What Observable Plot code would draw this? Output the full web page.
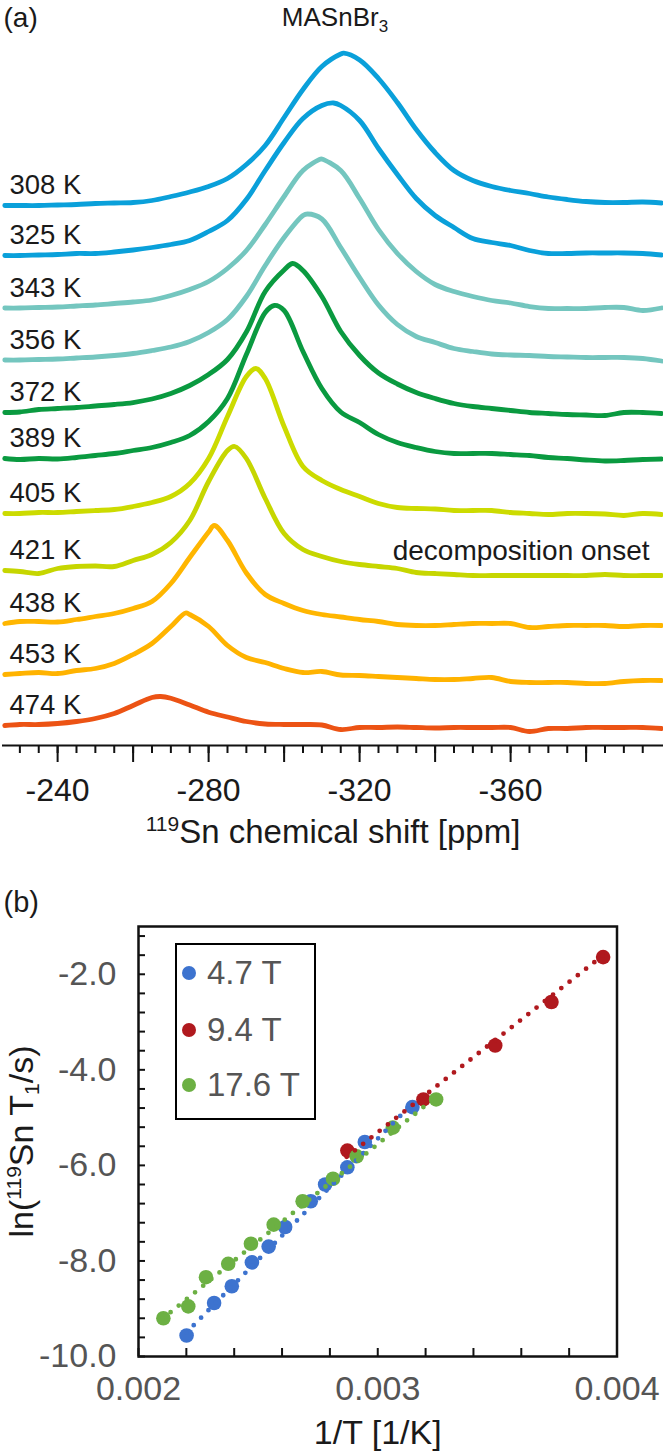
<!DOCTYPE html>
<html>
<head>
<meta charset="utf-8">
<script src="https://cdn.jsdelivr.net/npm/d3@7"></script>
<script src="https://cdn.jsdelivr.net/npm/@observablehq/plot@0.6"></script>
<style>
  html, body { margin: 0; padding: 0; background: #fff; overflow: hidden; }
  #wrap { position: relative; width: 663px; height: 1453px; font-family: "Liberation Sans", Arial, Helvetica, sans-serif; }
  #wrap svg { display: block; overflow: visible; }
  #legend { position: absolute; left: 175px; top: 943px; width: 141px; height: 177px; box-sizing: border-box;
            border: 2.5px solid #000; background: #fff; }
  .item { position: absolute; left: 0; height: 40px; display: flex; align-items: center; }
  .dot { position: absolute; left: 5px; width: 14px; height: 14px; border-radius: 50%; }
  .lab { position: absolute; left: 30px; font-size: 33px; color: #555; white-space: nowrap; line-height: 40px; }
</style>
</head>
<body>
<div id="wrap"></div>
<script>
// ---------- Panel (a): 119Sn spectra ----------
const temps = ["308 K", "325 K", "343 K", "356 K", "372 K", "389 K", "405 K", "421 K", "438 K", "453 K", "474 K"];
const colorsA = ["#0aa0da", "#0aa0da", "#74c6bf", "#74c6bf", "#0a9a40", "#0a9a40", "#ccdb00", "#c6d600", "#ffb600", "#ffb300", "#ec5314"];
// vertical stacking offsets (a.u.)
const offsets = [540, 490, 437.5, 385.5, 333, 287, 232, 175, 122, 71, 20];
// chemical shift grid (ppm)
const shift = [-226, -230, -235, -240, -245, -250, -255, -260, -265, -270, -275, -280, -285, -290, -295, -300, -305, -310,
               -315, -320, -325, -330, -335, -340, -345, -350, -355, -360, -365, -370, -375, -380, -385, -390, -395, -400];
const int308 = [0, 0, 0, 0.5, 1, 2, 2.5, 3, 5, 9, 13.5, 19, 27, 41, 60, 88, 116, 139, 151.5, 145.5, 127, 103, 76, 53, 35, 25, 19, 15, 12, 8.5, 6, 4, 3, 3, 3.5, 2.5];
const int325 = [0, 0, 0.5, 1, 2, 2, 3.5, 5.5, 8, 11, 15, 24, 35, 56, 85, 113, 137, 150, 150, 135, 107, 81, 57, 40, 28, 17, 13, 10, 5, 2, 2, 2.5, 2.5, 2.5, 2, 0.5];
const int343 = [0, 0, 0.5, 1, 2, 3, 4.5, 6, 8, 12.5, 18.5, 26.5, 39.5, 57.5, 83.5, 111.5, 137.5, 149, 137.5, 109.5, 78.5, 54.5, 36.5, 23.5, 16.5, 11.5, 7.5, 5, 1.5, -0.5, -0.5, -0.5, 0.5, 0.5, -2.5, 0];
const int356 = [0, 0, 0.5, 1, 2, 3, 4.5, 6.5, 9.5, 13, 18.5, 27.5, 40.5, 63.5, 94.5, 122.5, 144.5, 141, 112.5, 82.5, 55, 35.5, 23.5, 17.5, 11.5, 8.5, 6, 5, 4.5, 3.5, 3, 2.5, 2.5, 2.5, 1.5, -1];
const int372 = [0, 0.5, 3, 4, 5, 6.5, 8, 10, 13.5, 19, 27, 38, 53, 80.5, 121, 142.5, 142, 116, 81, 57, 39.5, 28.5, 20, 14, 9, 6, 4, 2, 0, -1, -2, -2.5, -3, 0, 0, -1];
const int389 = [0, -1, 0, -0.5, 1, 3, 5, 8, 11, 16, 23, 37, 60, 104, 146, 148, 107, 70, 46.5, 36, 24, 16, 11, 7, 5, 5, 5, 4, 3, 1, 0, -1.5, -2.5, -2, -1, -0.5];
const int405 = [0, 0, 1, 1, 2, 3, 4, 7, 11, 17, 30, 55, 97, 137, 135, 87, 47, 33, 24, 17, 10, 6, 5, 4.5, 3, 3, 3, 1, 0, -1, 0, 0, -0.5, -2, 0, -1];
const int421 = [0, -1, -3, 2, 4, 4.5, 4, 10, 16, 28, 50, 89, 120, 112, 72, 37, 21, 14, 9, 6, 4, 2, -2, -3, -4, -5, -5, -5, -5, -5, -5, -5, -4, -5, -5, -5];
const int438 = [0, 2, 2, 1.5, 4, 7, 10, 15, 22, 40, 66, 91.5, 83, 50.5, 29, 20, 13, 9, 6.5, 4, 2, -1, -2, -2, -1, 0, 0, 0, -4, -3, -2, -2, -2, -3, -2, -2];
const int453 = [0, 1, 2, 1, 4, 6, 11, 20, 31, 48, 60, 48, 29, 17, 12, 6, 2, 3, -0.5, -1, -2, -3, -4, -5, -5, -4, -3, -7, -8, -8, -8, -9, -9, -7, -6, -6];
const int474 = [0, 1, 1, 2, 4, 7, 12, 20, 28, 27.3, 20.5, 13.3, 8.5, 4, 1.5, 1, 1, 0.5, -4, -2, -2, -1.5, -2, -2.5, -2, -2, -2, -2, -6, -3, -3, -2, -2, -2, -2, -3];
// peak maxima
const peakShift = [-315.8, -313.1, -309.7, -306.2, -302.3, -297.4, -292.5, -286.9, -281.5, -273.9, -267.3];
const peakInt = [152.3, 152.5, 149, 146, 149, 153, 145, 124, 98, 61.5, 29];
const xTicksA = [-240, -280, -320, -360];

// ---------- Panel (b): ln T1 vs 1/T ----------
const fields = ["4.7 T", "9.4 T", "17.6 T"];
const colorsB = ["#3d73cf", "#b0191e", "#6cb043"];
const blueX = [0.002201, 0.002316, 0.002390, 0.002474, 0.002544, 0.002613, 0.002720, 0.002780, 0.002873, 0.002946, 0.003145];
const blueY = [-9.56, -8.88, -8.53, -8.03, -7.70, -7.29, -6.75, -6.40, -6.04, -5.51, -4.78];
const redX = [0.002873, 0.003191, 0.003491, 0.003726, 0.003942];
const redY = [-5.69, -4.62, -3.49, -2.58, -1.64];
const greenX = [0.002104, 0.002208, 0.002282, 0.002375, 0.002470, 0.002565, 0.002686, 0.002813, 0.002912, 0.003063, 0.003244];
const greenY = [-9.20, -8.95, -8.34, -8.06, -7.64, -7.24, -6.75, -6.28, -5.81, -5.21, -4.62];
// Arrhenius fit lines (end points)
const blueFitX = [0.0022, 0.00315], blueFitY = [-9.5, -4.68];
const redFitX = [0.00287, 0.00394], redFitY = [-5.82, -1.61];
const greenFitX = [0.0021, 0.00325], greenFitY = [-9.21, -4.54];
const xTicksB = [0.002, 0.003, 0.004];
const yTicksB = [-10, -8, -6, -4, -2];

const FONT = '"Liberation Sans", Arial, Helvetica, sans-serif';

// ---- build panel (a) rows
const intens = [int308, int325, int343, int356, int372, int389, int405, int421, int438, int453, int474];
const rowsA = [];
temps.forEach((t, k) => {
  const pts = shift.map((s, i) => ({t, s, v: offsets[k] + intens[k][i]}));
  pts.push({t, s: peakShift[k], v: offsets[k] + peakInt[k]});
  pts.sort((a, b) => b.s - a.s);
  rowsA.push(...pts);
});

const chartA = Plot.plot({
  width: 663, height: 850,
  marginTop: 40, marginBottom: 105, marginLeft: 2, marginRight: 0,
  style: {fontFamily: FONT, background: "transparent", color: "#1a1a1a"},
  x: {domain: [-225.4, -400.5]},
  y: {domain: [0, 705], axis: null},
  color: {domain: temps, range: colorsA},
  marks: [
    Plot.line(rowsA, {x: "s", y: "v", z: "t", stroke: "t", strokeWidth: 4.8, curve: "catmull-rom", strokeLinejoin: "round", strokeLinecap: "round"}),
    Plot.ruleY([0], {strokeWidth: 2.2, stroke: "#111"}),
    Plot.axisX(d3.range(-230, -396, -5), {tickSize: 8, strokeWidth: 2, stroke: "#111", fill: "none", label: null}),
    Plot.axisX(d3.range(-240, -381, -20), {tickSize: 17, strokeWidth: 2, stroke: "#111", fill: "none", label: null}),
    Plot.axisX(xTicksA, {tickSize: 0, tickPadding: 33, fontSize: 32, fill: "#1a1a1a", tickFormat: d => String(d), label: null}),
    Plot.text(["119Sn chemical shift [ppm]"], {frameAnchor: "bottom", dy: 87, fontSize: 33, textAnchor: "middle", lineAnchor: "middle", fill: "#1a1a1a"}),
    Plot.text(temps, {text: d => d, y: (d, i) => offsets[i] + 20, frameAnchor: "left", dx: 7, textAnchor: "start", lineAnchor: "middle", fontSize: 27.5, fill: "#1a1a1a"}),
    Plot.text(["decomposition onset"], {y: () => offsets[7] + 19, frameAnchor: "right", dx: -14, textAnchor: "end", lineAnchor: "middle", fontSize: 28, fill: "#1a1a1a"}),
    Plot.text(["MASnBr3"], {frameAnchor: "top", dx: 2, dy: -23, fontSize: 26, textAnchor: "middle", lineAnchor: "middle", fill: "#1a1a1a"}),
    Plot.text(["(a)"], {frameAnchor: "top-left", dx: 1, dy: -22, textAnchor: "start", lineAnchor: "middle", fontSize: 28, fill: "#1a1a1a"})
  ]
});

// ---- build panel (b) rows
const rowsB = [
  ...blueX.map((x, i) => ({f: "4.7 T", x, y: blueY[i]})),
  ...redX.map((x, i) => ({f: "9.4 T", x, y: redY[i]})),
  ...greenX.map((x, i) => ({f: "17.6 T", x, y: greenY[i]}))
];
const fitsB = [
  ...blueFitX.map((x, i) => ({f: "4.7 T", x, y: blueFitY[i]})),
  ...redFitX.map((x, i) => ({f: "9.4 T", x, y: redFitY[i]})),
  ...greenFitX.map((x, i) => ({f: "17.6 T", x, y: greenFitY[i]}))
];

const chartB = Plot.plot({
  width: 663, height: 603,
  marginTop: 76, marginBottom: 97, marginLeft: 138, marginRight: 46.5,
  style: {fontFamily: FONT, background: "transparent", color: "#1a1a1a"},
  x: {domain: [0.002, 0.004]},
  y: {domain: [-10, -1]},
  color: {domain: fields, range: colorsB},
  marks: [
    Plot.dot(rowsB, {x: "x", y: "y", fill: "f", r: 7.3}),
    Plot.line(fitsB, {x: "x", y: "y", z: "f", stroke: "f", strokeWidth: 4.8, strokeDasharray: "0 10.5", strokeLinecap: "round"}),
    Plot.axisY(d3.range(0, 23).map(i => -10 + i * 0.4), {tickSize: -7, strokeWidth: 2, stroke: "#111", fill: "none", label: null}),
    Plot.axisX(d3.range(0, 11).map(i => 0.002 + i * 0.0002), {tickSize: -8, strokeWidth: 2, stroke: "#111", fill: "none", label: null}),
    Plot.axisY(yTicksB, {tickSize: 0, tickPadding: 22, fontSize: 34, fill: "#555", tickFormat: d => d.toFixed(1), label: null}),
    Plot.axisX(xTicksB, {tickSize: 0, tickPadding: 19, fontSize: 34, fill: "#555", tickFormat: d => d.toFixed(3), label: null}),
    Plot.frame({strokeWidth: 2.5, stroke: "#111"}),
    Plot.text(["1/T [1/K]"], {frameAnchor: "bottom", dy: 77, fontSize: 34, textAnchor: "middle", lineAnchor: "middle", fill: "#1a1a1a"}),
    Plot.text(["ln(119Sn T1/s)"], {frameAnchor: "left", dx: -116, rotate: -90, fontSize: 34, textAnchor: "middle", lineAnchor: "middle", fill: "#1a1a1a"}),
    Plot.text(["(b)"], {frameAnchor: "top-left", dx: -135, dy: -24, textAnchor: "start", lineAnchor: "middle", fontSize: 29, fill: "#1a1a1a"})
  ]
});

const wrap = document.getElementById("wrap");
wrap.appendChild(chartA);
wrap.appendChild(chartB);

// rich text (superscripts / subscripts)
function rich(svg, plain, html) {
  d3.select(svg).selectAll("text").filter(function () { return this.textContent === plain; }).html(html);
}
rich(chartA, "119Sn chemical shift [ppm]", '<tspan font-size="21" dy="-12">119</tspan><tspan dy="12">Sn chemical shift [ppm]</tspan>');
rich(chartA, "MASnBr3", 'MASnBr<tspan font-size="17" dy="6">3</tspan>');
rich(chartB, "ln(119Sn T1/s)", 'ln(<tspan font-size="21" dy="-12">119</tspan><tspan dy="12">Sn T</tspan><tspan font-size="21" dy="6">1</tspan><tspan dy="-6">/s)</tspan>');

// legend (inside panel b)
const legend = document.createElement("div");
legend.id = "legend";
const centers = [27.5, 84.5, 139.5];
fields.forEach((f, i) => {
  const it = document.createElement("div");
  it.className = "item";
  it.style.top = (centers[i] - 20) + "px";
  it.innerHTML = `<span class="dot" style="background:${colorsB[i]}"></span><span class="lab">${f}</span>`;
  legend.appendChild(it);
});
wrap.appendChild(legend);
</script>
</body>
</html>
